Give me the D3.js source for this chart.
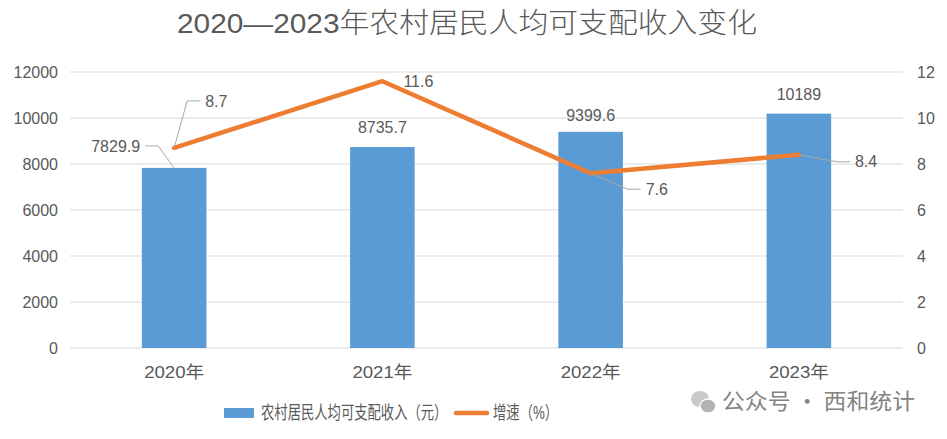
<!DOCTYPE html>
<html lang="zh">

<head>
    <meta charset="UTF-8" />
    <title>2020—2023年农村居民人均可支配收入变化</title>
    <script src="https://d3js.org/d3.v7.min.js"></script>
    <style>
        body { margin: 0; background: #fff; }
        text { font-family: "Liberation Sans", "Noto Sans CJK SC", sans-serif; fill: #595959; }
    </style>
</head>

<body>
    <svg id="chart"></svg>
</body>

<script>
// chart data
var years = ["2020年", "2021年", "2022年", "2023年"];
var income = [7829.9, 8735.7, 9399.6, 10189];
var growth = [8.7, 11.6, 7.6, 8.4];
var leftTicks = [0, 2000, 4000, 6000, 8000, 10000, 12000];
var rightTicks = [0, 2, 4, 6, 8, 10, 12];

var width = 947, height = 439;
var margin = { top: 72, right: 44, bottom: 91, left: 70 };

var svg = d3.select("#chart")
    .attr("width", width)
    .attr("height", height);

// title
svg.append("text")
    .attr("x", 467)
    .attr("y", 33)
    .attr("text-anchor", "middle")
    .attr("textLength", 580)
    .attr("lengthAdjust", "spacingAndGlyphs")
    .style("font-size", "28px")
    .style("font-weight", 300)
    .text("2020—2023年农村居民人均可支配收入变化");

var x = d3.scaleBand()
    .domain(years)
    .range([margin.left, width - margin.right])
    .paddingInner(0.69)
    .paddingOuter(0.345);

var yL = d3.scaleLinear().domain([0, 12000]).range([height - margin.bottom, margin.top]);
var yR = d3.scaleLinear().domain([0, 12]).range([height - margin.bottom, margin.top]);

var cx = function (d) { return x(d) + x.bandwidth() / 2; };

// gridlines
svg.append("g")
    .selectAll("line")
    .data(leftTicks)
    .enter()
    .append("line")
    .attr("x1", margin.left)
    .attr("x2", width - margin.right)
    .attr("y1", function (d) { return yL(d); })
    .attr("y2", function (d) { return yL(d); })
    .attr("stroke", "#d9d9d9")
    .attr("stroke-width", 1);

// left axis
var axL = svg.append("g")
    .attr("transform", "translate(" + margin.left + ",0)")
    .call(d3.axisLeft(yL).tickValues(leftTicks).tickFormat(d3.format("d")).tickSize(0).tickPadding(12));
axL.select(".domain").remove();
axL.selectAll("text").style("font-size", "16px").attr("fill", "#595959");

// right axis
var axR = svg.append("g")
    .attr("transform", "translate(" + (width - margin.right) + ",0)")
    .call(d3.axisRight(yR).tickValues(rightTicks).tickSize(0).tickPadding(14));
axR.select(".domain").remove();
axR.selectAll("text").style("font-size", "16px").attr("fill", "#595959");

// x axis labels
var axX = svg.append("g")
    .attr("transform", "translate(0," + (height - margin.bottom) + ")")
    .call(d3.axisBottom(x).tickSize(0).tickPadding(18));
axX.select(".domain").remove();
axX.selectAll("text")
    .style("font-size", "17px")
    .attr("fill", "#595959")
    .attr("textLength", 60)
    .attr("lengthAdjust", "spacingAndGlyphs");

// bars
svg.append("g")
    .selectAll("rect")
    .data(income)
    .enter()
    .append("rect")
    .attr("x", function (d, i) { return x(years[i]); })
    .attr("y", function (d) { return yL(d); })
    .attr("width", x.bandwidth())
    .attr("height", function (d) { return yL(0) - yL(d); })
    .attr("fill", "#5b9bd5");

// growth line
var line = d3.line()
    .x(function (d, i) { return cx(years[i]); })
    .y(function (d) { return yR(d); });

svg.append("path")
    .datum(growth)
    .attr("d", line)
    .attr("fill", "none")
    .attr("stroke", "#ed7d31")
    .attr("stroke-width", 4.5)
    .attr("stroke-linejoin", "round")
    .attr("stroke-linecap", "round");

// label offsets (dragged labels in the original, relative to the point)
// [dx, dy, anchor, leader?]
var incomeLab = [[-34, -22, "end", true], [0, -20, "middle", false], [0, -16, "middle", false], [0, -19, "middle", false]];
var growthLab = [[31, -47, "start", true], [21, 0, "start", false], [55, 16, "start", true], [56, 7, "start", true]];

function drawLabels(vals, scale, offs, fmt) {
    vals.forEach(function (v, i) {
        var px = cx(years[i]), py = scale(v);
        var o = offs[i];
        var tx = px + o[0], ty = py + o[1];
        if (o[3]) {
            var sign = o[2] === "end" ? 1 : -1;
            var ex = tx + sign * 5;
            var kx = ex + sign * 13;
            svg.append("polyline")
                .attr("points", [[px, py], [kx, ty], [ex, ty]].map(function (p) { return p.join(","); }).join(" "))
                .attr("fill", "none")
                .attr("stroke", "#a6a6a6")
                .attr("stroke-width", 1);
        }
        svg.append("text")
            .attr("x", tx)
            .attr("y", ty)
            .attr("dy", "0.35em")
            .attr("text-anchor", o[2])
            .style("font-size", "16px")
            .text(fmt(v));
    });
}

drawLabels(income, yL, incomeLab, function (v) { return String(v); });
drawLabels(growth, yR, growthLab, function (v) { return v.toFixed(1); });

// legend - narrow glyphs like the original, squeezed with a horizontal scale
var lg = svg.append("g").attr("transform", "translate(0,413)");
lg.append("rect").attr("x", 224).attr("y", -5).attr("width", 30).attr("height", 10).attr("fill", "#5b9bd5");
lg.append("text").attr("transform", "translate(261,0) scale(0.74,1)").attr("dy", "0.35em")
    .style("font-size", "18px").text("农村居民人均可支配收入（元）");
lg.append("line").attr("x1", 456).attr("x2", 487).attr("stroke", "#ed7d31").attr("stroke-width", 4.5).attr("stroke-linecap", "round");
lg.append("text").attr("transform", "translate(493,0) scale(0.74,1)").attr("dy", "0.35em")
    .style("font-size", "18px").text("增速（%）");

// watermark
var wm = svg.append("g").attr("transform", "translate(0,401)").attr("opacity", 0.75);
wm.append("ellipse").attr("cx", 700).attr("cy", -2).attr("rx", 9).attr("ry", 8).attr("fill", "#b8b8b8");
wm.append("ellipse").attr("cx", 708).attr("cy", 5).attr("rx", 8).attr("ry", 7).attr("fill", "#9a9a9a").attr("stroke", "#fff").attr("stroke-width", 1.5);
wm.append("text").attr("x", 722).attr("dy", "0.35em").attr("textLength", 193).attr("lengthAdjust", "spacingAndGlyphs")
    .style("font-size", "22px").style("font-family", "Noto Sans CJK SC").attr("fill", "#a0a0a0").text("公众号 · 西和统计");
</script>

</html>
